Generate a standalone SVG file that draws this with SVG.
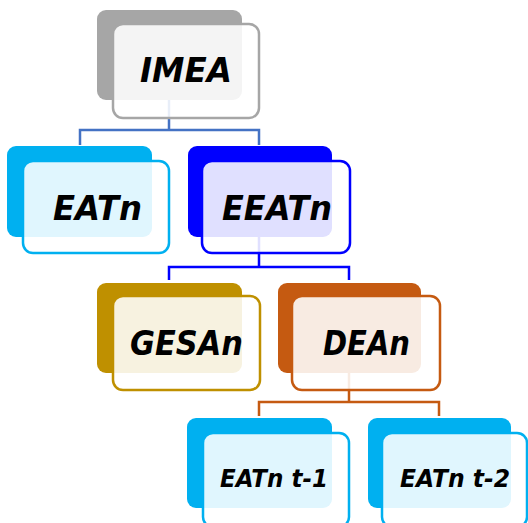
<svg xmlns="http://www.w3.org/2000/svg" width="528" height="523" viewBox="0 0 528 523">
<style>
.bg{stroke:none}
.fr{fill:#ffffff;fill-opacity:0.88;stroke-width:2.5}
.lbl{font-family:"DejaVu Sans",sans-serif;font-weight:bold;font-style:italic;fill:#000000}
.big{font-size:34px}
.small{font-size:24px}
.cn{fill:none;stroke-width:2.5}
</style>
<rect width="528" height="523" fill="#ffffff"/>
<g id="connectors">
<path class="cn" stroke="#4472C4" d="M169,100 V130 M80,145 V130 H259 V145"/>
<path class="cn" stroke="#0000FF" d="M259,237 V267 M169,280 V267 H349 V280"/>
<path class="cn" stroke="#C55A11" d="M349,373 V402 M259,416 V402 H439 V416"/>
</g>
<g id="IMEA">
<rect class="bg" x="97" y="10" width="145" height="90" rx="9" fill="#A6A6A6"/>
<rect class="fr" x="113" y="24" width="146" height="94" rx="10" stroke="#A6A6A6"/>
<text class="lbl big" x="140" y="82" textLength="92" lengthAdjust="spacingAndGlyphs">IMEA</text>
</g>
<g id="EATn">
<rect class="bg" x="7" y="146" width="145" height="91" rx="9" fill="#00B0F0"/>
<rect class="fr" x="23" y="161" width="146" height="92" rx="10" stroke="#00B0F0"/>
<text class="lbl big" x="53" y="220" textLength="89" lengthAdjust="spacingAndGlyphs">EATn</text>
</g>
<g id="EEATn">
<rect class="bg" x="188" y="146" width="144" height="91" rx="9" fill="#0000FF"/>
<rect class="fr" x="202" y="161" width="148" height="92" rx="10" stroke="#0000FF"/>
<text class="lbl big" x="222" y="220" textLength="110" lengthAdjust="spacingAndGlyphs">EEATn</text>
</g>
<g id="GESAn">
<rect class="bg" x="97" y="283" width="145" height="90" rx="9" fill="#BF9000"/>
<rect class="fr" x="113" y="296" width="147" height="94" rx="10" stroke="#BF9000"/>
<text class="lbl big" x="130" y="355" textLength="113" lengthAdjust="spacingAndGlyphs">GESAn</text>
</g>
<g id="DEAn">
<rect class="bg" x="278" y="283" width="143" height="90" rx="9" fill="#C55A11"/>
<rect class="fr" x="292" y="296" width="148" height="94" rx="10" stroke="#C55A11"/>
<text class="lbl big" x="323" y="355" textLength="87" lengthAdjust="spacingAndGlyphs">DEAn</text>
</g>
<g id="EATn_t1">
<rect class="bg" x="187" y="418" width="145" height="90" rx="9" fill="#00B0F0"/>
<rect class="fr" x="203" y="433" width="146" height="94" rx="10" stroke="#00B0F0"/>
<text class="lbl small" x="220" y="487" textLength="108" lengthAdjust="spacingAndGlyphs">EATn t-1</text>
</g>
<g id="EATn_t2">
<rect class="bg" x="368" y="418" width="143" height="90" rx="9" fill="#00B0F0"/>
<rect class="fr" x="382" y="433" width="145" height="94" rx="10" stroke="#00B0F0"/>
<text class="lbl small" x="400" y="487" textLength="110" lengthAdjust="spacingAndGlyphs">EATn t-2</text>
</g>
</svg>
